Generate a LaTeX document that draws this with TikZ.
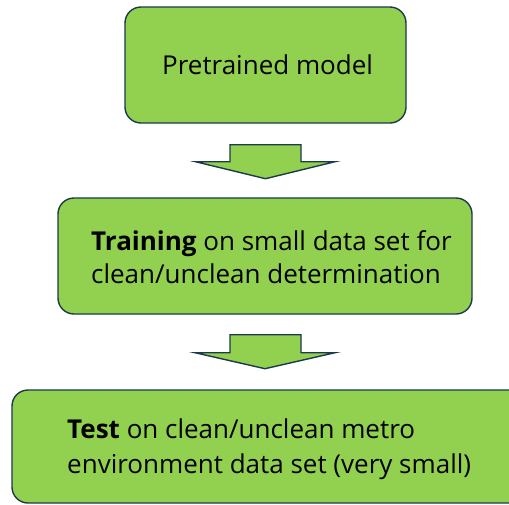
\documentclass[tikz,border=0pt]{standalone}
\usepackage{fontspec}
\setmainfont{Open Sans}
\usetikzlibrary{calc}
\definecolor{boxfill}{HTML}{92D050}
\definecolor{boxline}{HTML}{1B3A4B}
\begin{document}
\begin{tikzpicture}[x=1pt,y=-1pt,
  box/.style={draw=boxline,fill=boxfill,line width=1.4pt,rounded corners=16pt,inner sep=0pt},
  txt/.style={font=\fontsize{26}{33}\selectfont,inner sep=0pt,anchor=base west},
  blockarrow/.style={draw=boxline,fill=boxfill,line width=1.4pt,line join=miter}]
\useasboundingbox (0,0) rectangle (509,504);
\clip (0,0) rectangle (509,504);
\fill[white] (0,0) rectangle (509,504);
% boxes
\node[box,minimum width=281pt,minimum height=116pt] (b1) at (265.5,65) {};
\node[box,minimum width=414pt,minimum height=116pt] (b2) at (265,256) {};
\node[box,minimum width=518pt,minimum height=113pt] (b3) at (271,446.5) {};
% texts
\node[txt] (t1) at (162,74) {Pretrained model};
\node[txt] (t2a) at (91,250) {\textbf{Training} on small data set for};
\node[txt] (t2b) at (91,283) {clean/unclean determination};
\node[txt] (t3a) at (67,438) {\textbf{Test} on clean/unclean metro};
\node[txt] (t3b) at (67,473) {environment data set (very small)};
% block arrows between boxes
\draw[blockarrow] ($(b1.south)+(-35.5,21)$) -- ++(71,0) -- ++(0,17) -- ++(34,0) -- ($(b1.south)+(0,55)$)
  -- ($(b1.south)+(-70,38)$) -- ++(34.5,0) -- cycle;
\draw[blockarrow] ($(b2.south)+(-35,20)$) -- ++(71,0) -- ++(0,18) -- ++(34,0) -- ($(b2.south)+(0,54)$)
  -- ($(b2.south)+(-70,38)$) -- ++(35,0) -- cycle;
\end{tikzpicture}
\end{document}
